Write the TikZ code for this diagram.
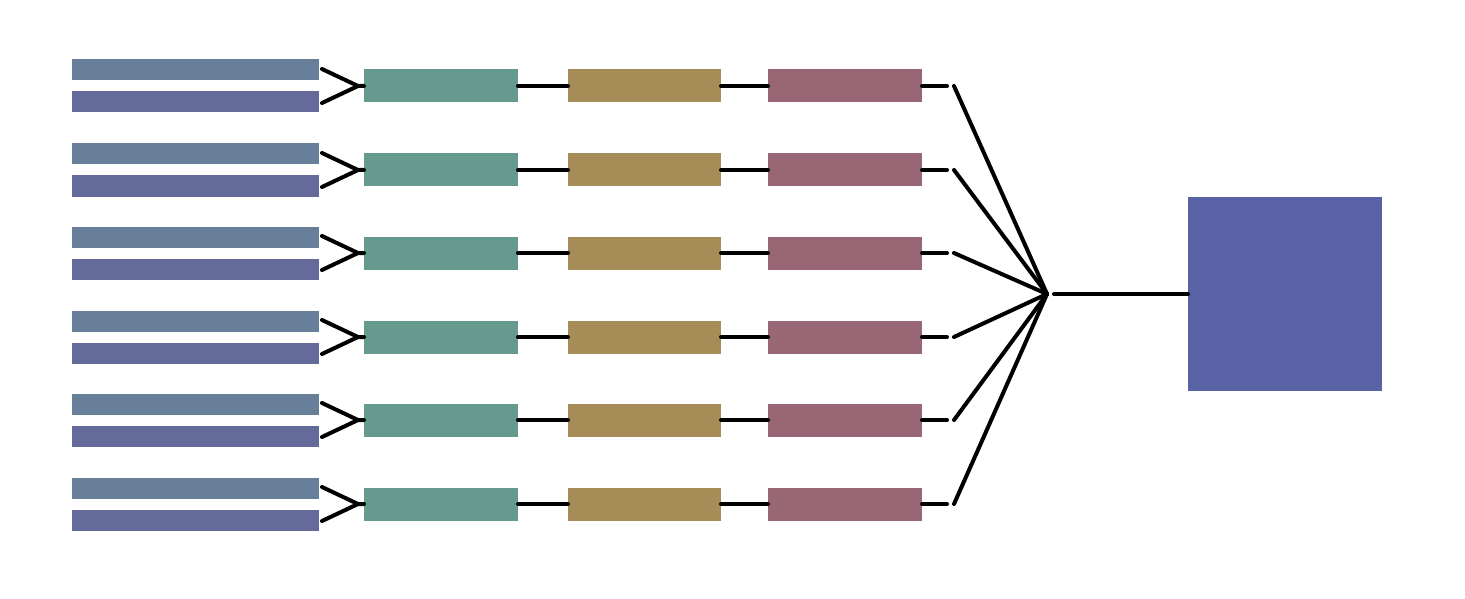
\documentclass[tikz,border=0pt]{standalone}
\begin{document}
\definecolor{barA}{RGB}{104,127,153}
\definecolor{barB}{RGB}{100,107,154}
\definecolor{stageA}{RGB}{102,154,143}
\definecolor{stageB}{RGB}{166,141,88}
\definecolor{stageC}{RGB}{153,102,117}
\definecolor{sink}{RGB}{90,98,166}
\begin{tikzpicture}[x=1pt,y=-1pt,
  blk/.style={draw=none,inner sep=0pt,outer sep=0pt,minimum height=33pt,minimum width=154pt},
  bar/.style={draw=none,inner sep=0pt,outer sep=0pt,minimum height=21pt,minimum width=247pt},
  wire/.style={line width=4pt,line cap=round,black}]
\useasboundingbox (0,0) rectangle (1465,599);
% output block and hub
\node[fill=sink,inner sep=0pt,outer sep=0pt,minimum width=194pt,minimum height=194pt] (out) at (1285,294) {};
\coordinate (hub) at (1047,294);
\coordinate (hubR) at (1054,294);
\draw[wire] (hubR) -- (out.west);
\foreach \i in {0,...,5}{
  \pgfmathsetmacro{\yc}{floor(86.5+83.5*\i)}
  \node[bar,fill=barA] (top\i) at (195.5,\yc-16) {};
  \node[bar,fill=barB] (bot\i) at (195.5,\yc+16) {};
  \node[blk,fill=stageA] (g\i) at (441,\yc) {};
  \node[blk,fill=stageB,minimum width=153pt] (o\i) at (644.5,\yc) {};
  \node[blk,fill=stageC] (m\i) at (845,\yc) {};
  \coordinate (ta\i) at (322,\yc-17);
  \coordinate (tb\i) at (322,\yc+17);
  \coordinate (j\i) at (358,\yc);
  \coordinate (e\i) at (947,\yc);
  \coordinate (f\i) at (954,\yc);
  \draw[wire] (ta\i) -- (j\i) -- (g\i.west);
  \draw[wire] (tb\i) -- (j\i);
  \draw[wire] (g\i.east) -- (o\i.west);
  \draw[wire] (o\i.east) -- (m\i.west);
  \draw[wire] (m\i.east) -- (e\i);
  \draw[wire] (f\i) -- (hub);
}
\end{tikzpicture}
\end{document}
